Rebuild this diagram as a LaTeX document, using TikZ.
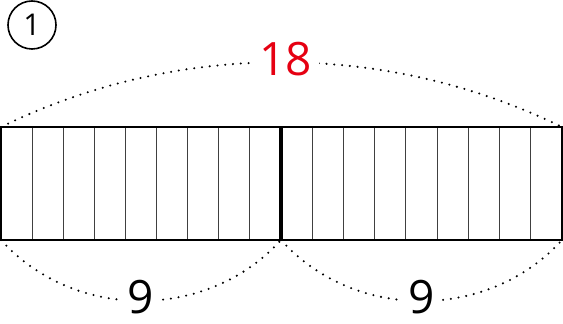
\documentclass[tikz,border=0pt]{standalone}
\usepackage{fontspec}
\setmainfont{Open Sans}
\usetikzlibrary{positioning}
\definecolor{numred}{HTML}{E60012}

\begin{document}
\begin{tikzpicture}[x=1pt, y=1pt,
    cellline/.style={line width=0.8pt, draw=black!75},
    outerbox/.style={line width=2.4pt, draw=black},
    dotarc/.style={line width=2.3pt, dash pattern=on 0pt off 7.8pt, line cap=round},
    numlabel/.style={font=\fontsize{46}{46}\selectfont, fill=white, inner xsep=7pt, inner ysep=1pt}
  ]
    \useasboundingbox (0,0) rectangle (563,324);
    % problem number
    \node[circle, draw, line width=1.6pt, minimum size=48pt, inner sep=0pt,
          font=\fontsize{30}{30}\selectfont] (nr) at (32,299) {1};
    % corners of the strip
    \coordinate (tl) at (1,197);
    \coordinate (bl) at (1,84);
    \coordinate (tr) at (562,197);
    \coordinate (br) at (562,84);
    \coordinate (tm) at (281,197);
    \coordinate (bm) at (281,84);
    % cells
    \foreach \i in {1,...,8} {
      \draw[cellline] (1+\i*280/9,84) -- (1+\i*280/9,197);
      \draw[cellline] (281+\i*281/9,84) -- (281+\i*281/9,197);
    }
    \draw[outerbox] (tl) rectangle (br);
    \draw[line width=3.6pt] (tm) -- (bm);
    % dotted arcs with numbers
    \draw[dotarc] (tl) to[bend left=26, looseness=0.9]
      node[numlabel, text=numred, pos=0.5, xshift=4pt, yshift=3pt] (whole) {18} (tr);
    \draw[dotarc] (bl) to[bend right=48]
      node[numlabel, pos=0.5, yshift=4pt] (lefthalf) {9} (bm);
    \draw[dotarc] (bm) to[bend right=48]
      node[numlabel, pos=0.5, yshift=4pt] (righthalf) {9} (br);
  \end{tikzpicture}
\end{document}
